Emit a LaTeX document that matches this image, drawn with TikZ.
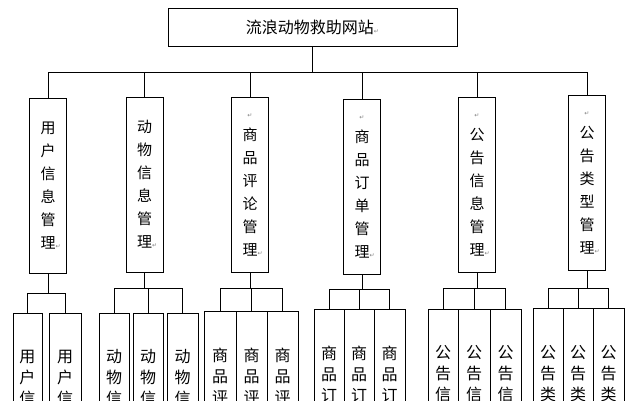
\documentclass[tikz,border=0pt]{standalone}
\usepackage{fontspec}
\setmainfont{Noto Sans CJK SC}
\newfontfamily\symfont{DejaVu Sans}
\usetikzlibrary{positioning}
\newcommand{\arr}{{\symfont\fontsize{6}{6}\selectfont\textcolor{gray}{↵}}}
\tikzset{
  box/.style={draw, line width=0.8pt, inner sep=0pt, align=center},
  topbox/.style={box, minimum width=289, minimum height=38, font=\fontsize{16}{18}\selectfont},
  modbox/.style={box, minimum width=37, minimum height=175, font=\fontsize{15}{23}\selectfont},
  subbox/.style={box, anchor=north, minimum height=150, font=\fontsize{16}{21}\selectfont},
  link/.style={draw, line width=0.8pt}
}
\begin{document}
\begin{tikzpicture}[x=1pt, y=-1pt]
\useasboundingbox (0,0) rectangle (629,400);
\clip (0,0) rectangle (629,400);
% top node
\node[topbox] (site) at (312.5,27) {流浪动物救助网站\arr};
% modules
\node[modbox] (user) at (48,185.5) {用\\户\\信\\息\\管\\理\rlap{\arr}};
\node[modbox] (animal) at (144.5,184.5) {动\\物\\信\\息\\管\\理\rlap{\arr}};
\node[modbox] (review) at (250,185) {\arr\\商\\品\\评\\论\\管\\理\rlap{\arr}};
\node[modbox] (order) at (362,186.5) {\arr\\商\\品\\订\\单\\管\\理\rlap{\arr}};
\node[modbox] (notice) at (477,185) {\arr\\公\\告\\信\\息\\管\\理\rlap{\arr}};
\node[modbox] (ntype) at (587,183) {\arr\\公\\告\\类\\型\\管\\理\rlap{\arr}};
% bus
\coordinate (bus) at (0,72);
\draw[link] (site.south) -- (site.south |- bus);
\draw[link] (user.north |- bus) -- (ntype.north |- bus);
\foreach \m in {user,animal,review,order,notice,ntype}
  \draw[link] (\m.north) -- (\m.north |- bus);
% sub functions
\foreach \m/\by/\ty/\txt/\n/\xs in {%
  user/293/313/{用\\户\\信\\息}/2/{13/42,49/81},
  animal/288/313/{动\\物\\信\\息}/3/{99/129,133/163,167/198},
  review/288/311/{商\\品\\评\\论}/3/{204/236,236/267,267/298},
  order/289/309/{商\\品\\订\\单}/3/{314/344,344/374,374/405},
  notice/288/309/{公\\告\\信\\息}/3/{428/458,458/490,490/521},
  ntype/288/308/{公\\告\\类\\型}/3/{533/563,563/593,593/624}}{
  \coordinate (bar) at (0,\by);
  \draw[link] (\m.south) -- (\m.south |- bar);
  \foreach \xa/\xb [count=\i] in \xs {
    \node[subbox, minimum width=\xb-\xa] (\m-\i) at ({(\xa+\xb)/2},\ty) {\txt};
    \draw[link] (\m-\i.north) -- (\m-\i.north |- bar);
  }
  \draw[link] (\m-1.north |- bar) -- (\m-\n.north |- bar);
}
\end{tikzpicture}
\end{document}
